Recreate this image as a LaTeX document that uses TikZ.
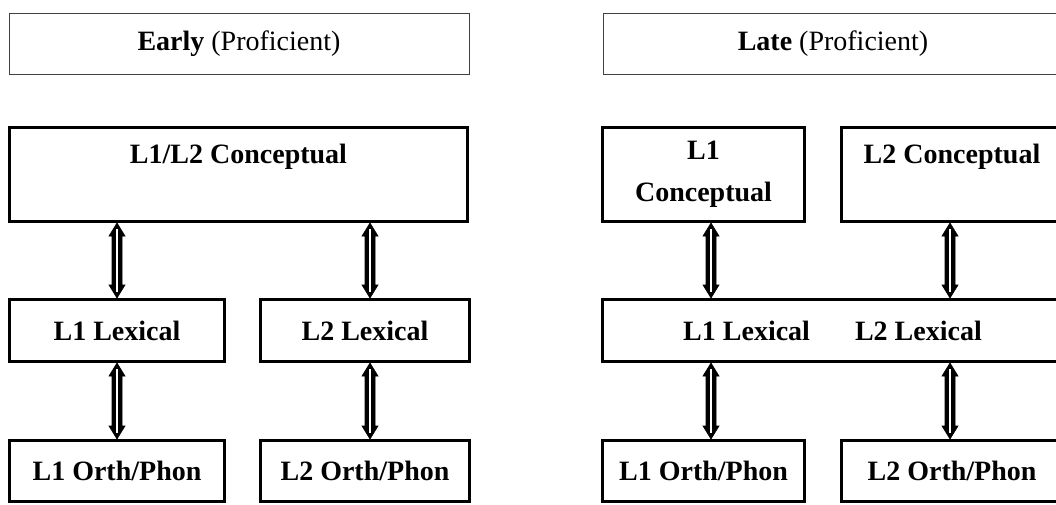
\documentclass[tikz,border=0pt]{standalone}
\usepackage{fontspec}
\setmainfont{Liberation Serif}
\usetikzlibrary{calc}
\tikzset{
  hdr/.style={draw=black!75, line width=1pt, minimum width=460pt, minimum height=61pt, inner sep=0pt, font=\fontsize{28}{40}\selectfont},
  blk/.style={draw=black, line width=3pt, inner sep=0pt, align=center, font=\bfseries\fontsize{28}{42}\selectfont},
  arrowout/.style={fill=black, draw=black, line width=0.6pt, line join=miter},
  arrowin/.style={draw=white, line width=1.2pt}
}
% hollow-cored double-headed vertical arrow from top point #1 to bottom point #2
\newcommand\dblarrow[2]{%
  \filldraw[arrowout] let \p1=#1, \p2=#2 in
    (\x1,\y1) -- ++(8pt,-13pt) -- ++(-3pt,0pt) |- ($(\x1,\y2)+(5pt,13pt)$)
    -- ++(3pt,0pt) -- (\x1,\y2) -- ++(-8pt,13pt) -- ++(3pt,0pt) |- ($(\x1,\y1)+(-5pt,-13pt)$)
    -- ++(-3pt,0pt) -- cycle;
  \draw[arrowin] let \p1=#1, \p2=#2 in
    ($(\x1,\y1)+(0pt,-6pt)$) -- ($(\x1,\y2)+(0pt,6pt)$);
}
\begin{document}
\begin{tikzpicture}[x=1pt,y=-1pt]
\clip (0,0) rectangle (1056,504);
\fill[white] (0,0) rectangle (1056,504);
% headers
\node[hdr] (hL) at (239,43.5) {\textbf{Early} (Proficient)};
\node[hdr] (hR) at (833,43.5) {\textbf{Late} (Proficient)};
% left (Early)
\node[blk, minimum width=458pt, minimum height=94pt] (cL) at (238.5,174.5) {L1/L2 Conceptual\\\mbox{}};
\node[blk, minimum width=215pt, minimum height=62pt] (lL1) at (117,330.5) {L1 Lexical};
\node[blk, minimum width=209pt, minimum height=62pt] (lL2) at (365,330.5) {L2 Lexical};
\node[blk, minimum width=215pt, minimum height=61pt] (oL1) at (117,471) {L1 Orth/Phon};
\node[blk, minimum width=209pt, minimum height=61pt] (oL2) at (365,471) {L2 Orth/Phon};
% right (Late)
\node[blk, minimum width=202pt, minimum height=94pt] (cR1) at (703.5,174.5) {L1\\Conceptual};
\node[blk, minimum width=221pt, minimum height=94pt] (cR2) at (952,174.5) {L2 Conceptual\\\mbox{}};
\node[blk, minimum width=460pt, minimum height=62pt] (lR) at (832.5,330.5) {L1 Lexical\hspace{45pt}L2 Lexical};
\node[blk, minimum width=202pt, minimum height=61pt] (oR1) at (703.5,471) {L1 Orth/Phon};
\node[blk, minimum width=221pt, minimum height=61pt] (oR2) at (952,471) {L2 Orth/Phon};
% arrows left
\dblarrow{(lL1.north |- cL.south)}{(lL1.north)}
\dblarrow{([xshift=5pt]lL2.north |- cL.south)}{([xshift=5pt]lL2.north)}
\dblarrow{(lL1.south)}{(oL1.north)}
\dblarrow{([xshift=5pt]lL2.south)}{([xshift=5pt]oL2.north)}
% arrows right
\dblarrow{([xshift=7.5pt]cR1.south)}{([xshift=7.5pt]cR1.south |- lR.north)}
\dblarrow{([xshift=-2pt]cR2.south)}{([xshift=-2pt]cR2.south |- lR.north)}
\dblarrow{([xshift=7.5pt]oR1.north |- lR.south)}{([xshift=7.5pt]oR1.north)}
\dblarrow{([xshift=-2pt]oR2.north |- lR.south)}{([xshift=-2pt]oR2.north)}
\end{tikzpicture}
\end{document}
